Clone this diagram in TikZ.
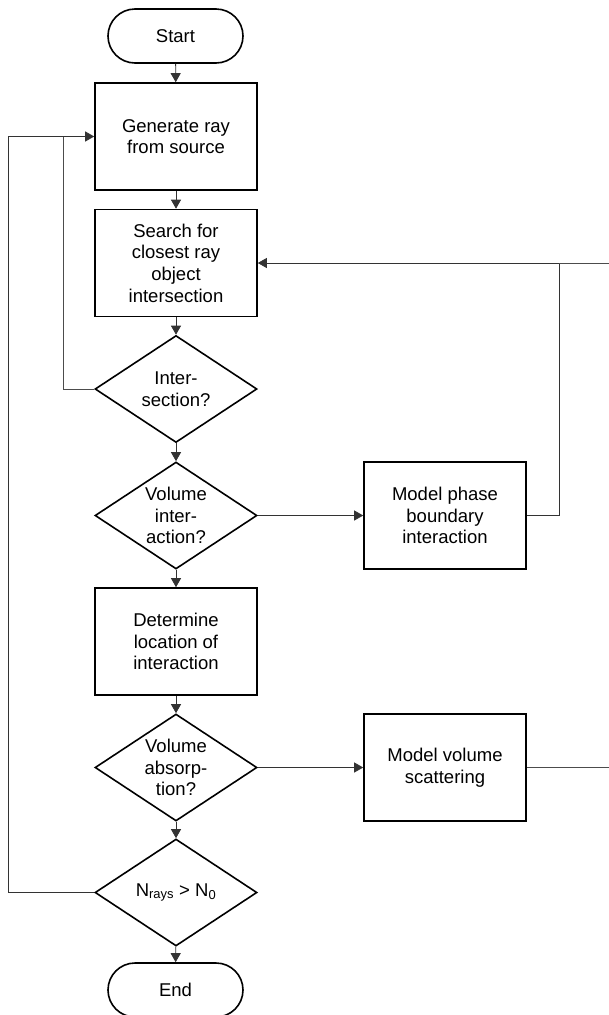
\documentclass[tikz,border=0pt]{standalone}
\usepackage{fontspec}
\setmainfont{Liberation Sans}
\usetikzlibrary{shapes.geometric,arrows.meta}
\begin{document}
\begin{tikzpicture}[x=1pt,y=-1pt,
  every node/.style={font=\fontsize{18.5}{21.7}\selectfont, align=center, text=black},
  term/.style={draw, line width=1.6pt, rounded corners=27pt, minimum width=135pt, minimum height=54pt, inner sep=0pt},
  proc/.style={draw, line width=1.6pt, minimum width=162pt, minimum height=107pt, inner sep=0pt},
  dec/.style={draw, line width=1.6pt, shape=diamond, aspect=1.52, minimum width=162pt, minimum height=107pt, inner sep=0pt},
  flow/.style={line width=0.8pt, draw=black!80, -{Triangle[length=9pt,width=10pt]}},
  plain/.style={line width=0.8pt, draw=black!70}]
\useasboundingbox (0,0) rectangle (609,1015);
\clip (0,0) rectangle (609,1015);
\node[term] (start) at (175.5,36) {Start};
\node[proc] (gen) at (176,136.5) {Generate ray\\from source};
\node[proc] (search) at (176,263) {Search for\\closest ray\\object\\intersection};
\node[dec] (inter) at (176,389) {Inter-\\section?};
\node[dec] (vint) at (176,515.5) {Volume\\inter-\\action?};
\node[proc] (phase) at (445,515.5) {Model phase\\boundary\\interaction};
\node[proc] (det) at (176,641.5) {Determine\\location of\\interaction};
\node[dec] (vabs) at (176,767.5) {Volume\\absorp-\\tion?};
\node[proc] (scat) at (445,767.5) {Model volume\\scattering};
\node[dec] (nrays) at (176,892.5) {N\textsubscript{rays} > N\textsubscript{0}};
\node[term] (end) at (175.5,990) {End};
\coordinate (lx) at (8,0);
\coordinate (ix) at (63,0);
\coordinate (rx) at (559,0);
\coordinate (fx) at (640,0);
\draw[flow] (start) -- (gen);
\draw[flow] (gen) -- (search);
\draw[flow] (search) -- (inter);
\draw[flow] (inter) -- (vint);
\draw[flow] (vint) -- (det);
\draw[flow] (det) -- (vabs);
\draw[flow] (vabs) -- (nrays);
\draw[flow] (nrays) -- (end);
\draw[flow] (vint.east) -- (phase.west);
\draw[flow] (vabs.east) -- (scat.west);
\draw[flow] (nrays.west) -- (lx |- nrays.west) -- (lx |- gen.west) -- (gen.west);
\draw[plain] (inter.west) -- (ix |- inter.west) -- (ix |- gen.west);
\draw[flow] (phase.east) -- (rx |- phase.east) -- (rx |- search.east) -- (search.east);
\draw[plain] (scat.east) -- (fx |- scat.east) -- (fx |- search.east) -- (rx |- search.east);
\end{tikzpicture}
\end{document}
